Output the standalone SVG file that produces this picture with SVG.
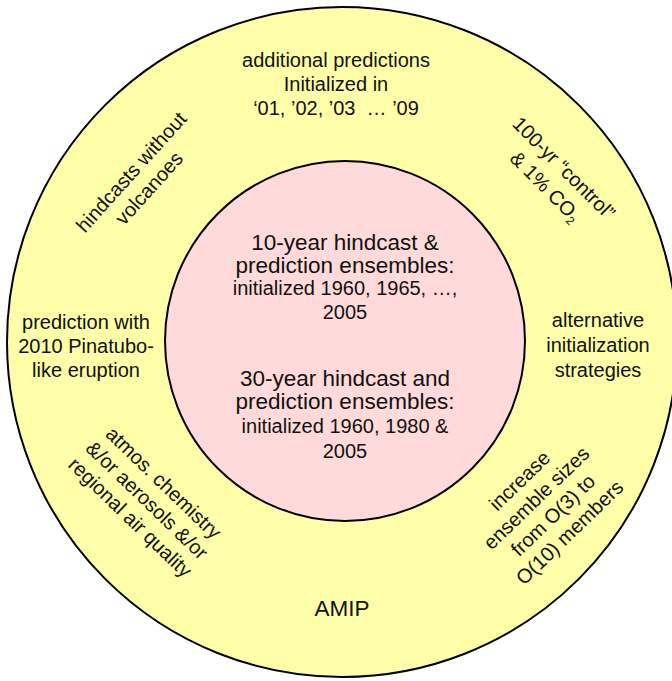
<svg xmlns="http://www.w3.org/2000/svg" width="672" height="681" viewBox="0 0 672 681">
<style>
.ring{fill:#FFFFAA;stroke:#000;stroke-width:2}
.core{fill:#FFDADA;stroke:#000;stroke-width:2}
text{font-family:"Liberation Sans",Arial,sans-serif;fill:#111;text-anchor:middle}
.o{font-size:20px}
.b{font-size:22.5px}
.s{font-size:20px}
</style>
<rect width="672" height="681" fill="#fff"/>
<g id="outer-ring"><circle class="ring" cx="342" cy="342" r="335"/></g>
<g id="inner-core">
<circle class="core" cx="345" cy="341" r="180"/>
<text class="b" x="345" y="250">10-year hindcast &amp;</text>
<text class="b" x="345" y="273">prediction ensembles:</text>
<text class="s" x="345" y="295">initialized 1960, 1965, …,</text>
<text class="s" x="345" y="319">2005</text>
<text class="b" x="345" y="386">30-year hindcast and</text>
<text class="b" x="345" y="409">prediction ensembles:</text>
<text class="s" x="345" y="433">initialized 1960, 1980 &amp;</text>
<text class="s" x="345" y="458">2005</text>
</g>
<g id="additional-predictions">
<text class="o" x="336" y="67">additional predictions</text>
<text class="o" x="336" y="91">Initialized in</text>
<text class="o" x="336" y="115" xml:space="preserve">‘01, ’02, ’03  … ’09</text>
</g>
<g id="control-co2" transform="translate(552,180) rotate(45)">
<text class="o" x="0" y="-10">100-yr “control”</text>
<text class="o" x="0" y="16">&amp; 1% CO<tspan font-size="12" dy="4">2</tspan></text>
</g>
<g id="hindcasts-without-volcanoes" transform="translate(140,180) rotate(-48)">
<text class="o" x="0" y="-5">hindcasts without</text>
<text class="o" x="0" y="19">volcanoes</text>
</g>
<g id="pinatubo">
<text class="o" x="86" y="329">prediction with</text>
<text class="o" x="86" y="353">2010 Pinatubo-</text>
<text class="o" x="86" y="377">like eruption</text>
</g>
<g id="alternative-initialization">
<text class="o" x="598" y="327">alternative</text>
<text class="o" x="598" y="352">initialization</text>
<text class="o" x="598" y="377">strategies</text>
</g>
<g id="atmos-chemistry" transform="translate(147,500) rotate(44)">
<text class="o" x="0" y="-17">atmos. chemistry</text>
<text class="o" x="0" y="7">&amp;/or aerosols &amp;/or</text>
<text class="o" x="0" y="31">regional air quality</text>
</g>
<g id="ensemble-sizes" transform="translate(544.5,506.5) rotate(-44)">
<text class="o" x="0" y="-29">increase</text>
<text class="o" x="0" y="-5">ensemble sizes</text>
<text class="o" x="0" y="19">from O(3) to</text>
<text class="o" x="0" y="43">O(10) members</text>
</g>
<g id="amip"><text class="b" x="342" y="616">AMIP</text></g>
</svg>
